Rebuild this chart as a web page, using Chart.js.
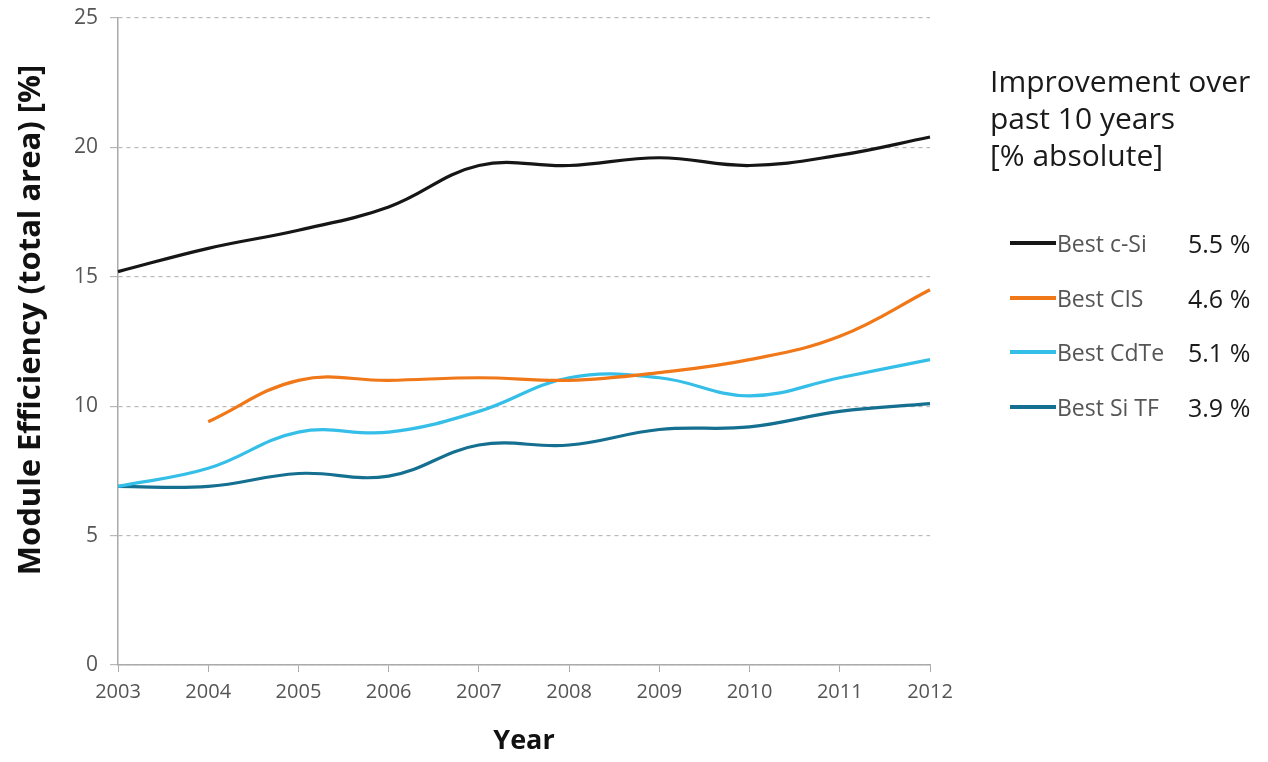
<!DOCTYPE html>
<html>
<head>
<meta charset="utf-8">
<script src="https://cdn.jsdelivr.net/npm/chart.js@4/dist/chart.umd.min.js"></script>
<style>
  html, body { margin: 0; padding: 0; background: #fff; }
  #wrap { position: relative; width: 1268px; height: 762px; }
  canvas { position: absolute; left: 0; top: 0; }
  .ltitle { position: absolute; left: 990px; top: 62px; font-family: "Open Sans", sans-serif; font-size: 30px; font-weight: 500; line-height: 37px; color: #1a1a1a; white-space: nowrap; }
  .item { position: absolute; left: 1010px; font-family: "Open Sans", sans-serif; height: 28px; line-height: 28px; }
  .item .ln { position: absolute; left: 0; top: 12px; width: 46px; height: 4px; }
  .item .lb { position: absolute; left: 47px; top: 0; color: #555; font-size: 23px; white-space: nowrap; }
  .item .vl { position: absolute; left: 178px; top: 0; color: #1a1a1a; font-size: 25px; font-weight: 500; white-space: nowrap; }
</style>
</head>
<body>
<div id="wrap">
  <canvas id="c" width="1268" height="762"></canvas>
  <div class="ltitle">Improvement over<br>past 10 years<br>[% absolute]</div>
  <div id="legend"></div>
</div>
<script>
const years = ['2003','2004','2005','2006','2007','2008','2009','2010','2011','2012'];
const cSi  = [15.2, 16.1, 16.8, 17.7, 19.3, 19.3, 19.6, 19.3, 19.7, 20.4];
const cis  = [null, 9.4, 11.0, 11.0, 11.1, 11.0, 11.3, 11.8, 12.7, 14.5];
const cdte = [6.9, 7.6, 9.0, 9.0, 9.8, 11.1, 11.1, 10.4, 11.1, 11.8];
const siTF = [6.9, 6.9, 7.4, 7.3, 8.5, 8.5, 9.1, 9.2, 9.8, 10.1];
const seriesNames = ['Best c-Si', 'Best CIS', 'Best CdTe', 'Best Si TF'];
const improvements = ['5.5 %', '4.6 %', '5.1 %', '3.9 %'];
const yTicks = [0, 5, 10, 15, 20, 25];
const yTitle = 'Module Efficiency (total area) [%]';

const colors = ['#161616', '#f07818', '#35bfe8', '#146f90'];
const seriesData = [cSi, cis, cdte, siTF];

const datasets = seriesData.map((d, i) => ({
  label: seriesNames[i],
  data: d,
  borderColor: colors[i],
  backgroundColor: colors[i],
  borderWidth: 3.2,
  pointRadius: 0,
  tension: 0.4,
  fill: false,
  spanGaps: false
}));

const font = '"Open Sans", sans-serif';

const yTitlePlugin = {
  id: 'yTitle',
  afterDraw(chart) {
    const ctx = chart.ctx;
    ctx.save();
    ctx.translate(31, 320);
    ctx.rotate(-Math.PI / 2);
    ctx.font = 'bold 31px ' + font;
    ctx.fillStyle = '#111';
    ctx.textAlign = 'center';
    ctx.textBaseline = 'middle';
    ctx.fillText(yTitle, 0, 0);
    ctx.restore();
  }
};

new Chart(document.getElementById('c'), {
  type: 'line',
  data: { labels: years, datasets },
  options: {
    responsive: false,
    animation: false,
    devicePixelRatio: 1,
    layout: { padding: { top: 18, right: 338, left: 0, bottom: 0 } },
    plugins: { legend: { display: false }, tooltip: { enabled: false } },
    scales: {
      x: {
        offset: false,
        grid: { display: true, drawOnChartArea: false, drawTicks: true, tickLength: 7, color: '#aaa' },
        border: { display: true, color: '#aaa', width: 1.5 },
        ticks: { color: '#555', font: { family: font, size: 20 }, padding: 8, maxRotation: 0 },
        title: { display: true, text: 'Year', color: '#111', font: { family: font, size: 27, weight: 'bold' }, padding: { top: 17 } },
        afterFit: (s) => { s.height = 97; }
      },
      y: {
        min: 0, max: 25,
        afterBuildTicks: (s) => { s.ticks = yTicks.map(v => ({ value: v })); },
        grid: { color: '#b8b8b8', lineWidth: 1.2, tickLength: 8 },
        border: { display: true, color: '#aaa', width: 1.5, dash: [4, 4] },
        ticks: { color: '#555', font: { family: font, size: 21 }, padding: 12 },
        title: { display: false },
        afterFit: (s) => { s.width = 118; s.paddingTop = 0; s.paddingBottom = 0; }
      }
    }
  },
  plugins: [yTitlePlugin]
});

const leg = document.getElementById('legend');
const rowsTop = [229, 284, 338, 393];
seriesNames.forEach((n, i) => {
  const d = document.createElement('div');
  d.className = 'item';
  d.style.top = rowsTop[i] + 'px';
  d.innerHTML = '<div class="ln" style="background:' + colors[i] + '"></div><span class="lb">' + n + '</span><span class="vl">' + improvements[i] + '</span>';
  leg.appendChild(d);
});
</script>
</body>
</html>
